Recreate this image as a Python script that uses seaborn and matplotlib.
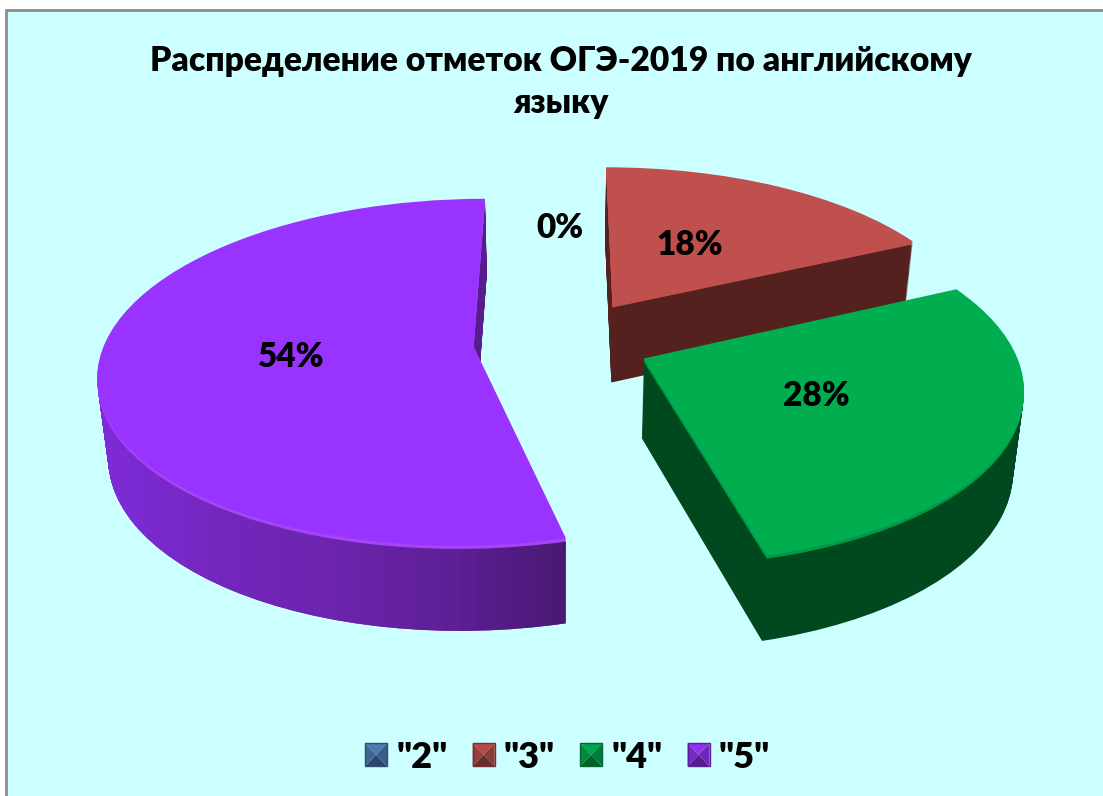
#
# OGE-2019 English marks, exploded "3D" pie
#

import numpy as np
import matplotlib
matplotlib.use('Agg')
import matplotlib.pyplot as plt
import seaborn as sns
from matplotlib.colors import LinearSegmentedColormap, to_rgb
from matplotlib.legend_handler import HandlerBase
from matplotlib.patches import Patch, Polygon, Rectangle
from matplotlib.path import Path
from matplotlib.transforms import Transform

marks = ['"2"', '"3"', '"4"', '"5"']
shares = [0, 18, 28, 54]
title = 'Распределение отметок ОГЭ-2019 по английскому\nязыку'

top_colors = ['#4f81bd', '#bf504d', '#00ae50', '#9933ff']
wall_colors = ['#2c4a6e', '#55211f', '#00491f', '#7126b5']
rim_colors = ['#4f81bd', '#bf504d', '#009a47', '#a545f5']
purple_wall = ['#7f2bdb', '#7427bd', '#6c24ad', '#5c1f94', '#47186f']

explode = [0.2416, 0.265, 0.2416, 0.2416]
n_layers = 80

sns.set_theme(style='white')
plt.rcParams['font.family'] = ['Lato', 'Noto Sans', 'DejaVu Sans']
plt.rcParams['font.weight'] = 'heavy'


# unit pie -> picture pixels, a homography so the front of the pie looks closer
class PieView(Transform):
    input_dims = 2
    output_dims = 2
    is_separable = False

    def __init__(self, drop=0.0):
        super().__init__()
        self.drop = drop

    def transform_non_affine(self, xy):
        xy = np.asarray(xy)
        w = 1 + 0.15 * xy[:, 1]
        sx = 368 * (1 - 0.024 * self.drop)
        sy = 168 * (1 + 0.03 * self.drop)
        return np.column_stack([562 + sx * xy[:, 0] / w,
                                341 + 79 * self.drop - sy * xy[:, 1] / w])


# little pyramid squares in the legend
class BevelHandler(HandlerBase):
    def create_artists(self, legend, orig, xd, yd, width, height, fontsize, trans):
        c = np.array(orig.get_facecolor()[:3])
        x0, y0 = -xd, -yd
        x1, y1 = x0 + width, y0 + height
        mid = (x0 + width / 2, y0 + height / 2)
        sides = [([(x0, y0), (x1, y0), mid], 0.55),
                 ([(x0, y1), (x1, y1), mid], 0.95),
                 ([(x0, y0), (x0, y1), mid], 0.78),
                 ([(x1, y0), (x1, y1), mid], 0.72)]
        out = []
        for pts, f in sides:
            out.append(Polygon(pts, closed=True, facecolor=c * f, edgecolor='none', transform=trans))
        out.append(Rectangle((x0, y0), width, height, facecolor='none',
                             edgecolor=c * 0.6, linewidth=1, transform=trans))
        return out


fig = plt.figure(figsize=(11.03, 7.96), dpi=100, facecolor='white')
ax = fig.add_axes([0, 0, 1, 1])
ax.set_axis_off()

# back to front: red, purple, green
order = {1: 10, 3: 20, 2: 30, 0: 5}
purple_paths = []

for i in range(n_layers + 1):
    d = 1 - i / n_layers
    view = PieView(d)
    if i == n_layers:
        colors = top_colors
        bump = 0.9
    elif i >= n_layers - 3:
        colors = rim_colors
        bump = 0.8
    else:
        colors = wall_colors
        bump = 0.4 * i / n_layers
    wedges, _ = ax.pie(shares, explode=explode, startangle=90, counterclock=False,
                       colors=colors, wedgeprops={'linewidth': 0})
    for k, w in enumerate(wedges):
        w.set_transform(view + ax.transData)
        w.set_zorder(order[k] + bump)
    if i < n_layers - 3:
        purple_paths.append(view.transform_path(wedges[3].get_path()))

ax.set_aspect('auto')

# shading along the purple wall
cmap = LinearSegmentedColormap.from_list('purple_wall', purple_wall)
img = ax.imshow(np.linspace(0, 1, 256)[None, :], extent=(98, 580, 640, 190), aspect='auto',
                cmap=cmap, zorder=order[3] + 0.5)
img.set_clip_path(Path.make_compound_path(*purple_paths), ax.transData)

ax.set_xlim(0, 1103)
ax.set_ylim(796, 0)

# panel
ax.add_patch(Rectangle((6, 10), 1110, 800, facecolor='#ccffff', edgecolor='#8c8c8c',
                       linewidth=2, zorder=0))

ax.text(561, 82, title, ha='center', va='center', fontsize=24.2, linespacing=1.38,
        color='black', zorder=100)

label_pos = [(560, 228), (690, 245), (816, 396), (291, 357)]
for share, (x, y) in zip(shares, label_pos):
    ax.text(x, y, f'{share}%', ha='center', va='center', fontsize=24, color='black', zorder=100)

handles = [Patch(facecolor=to_rgb(c), label=m) for c, m in zip(top_colors, marks)]
ax.legend(handles=handles, handler_map={Patch: BevelHandler()}, ncol=4, loc='center',
          bbox_to_anchor=(567.5, 757), bbox_transform=ax.transData, frameon=False,
          fontsize=26, handlelength=0.61, handleheight=0.61, handletextpad=0.25,
          columnspacing=0.7, borderpad=0, labelcolor='black')

fig.savefig('out.png', dpi=100)
